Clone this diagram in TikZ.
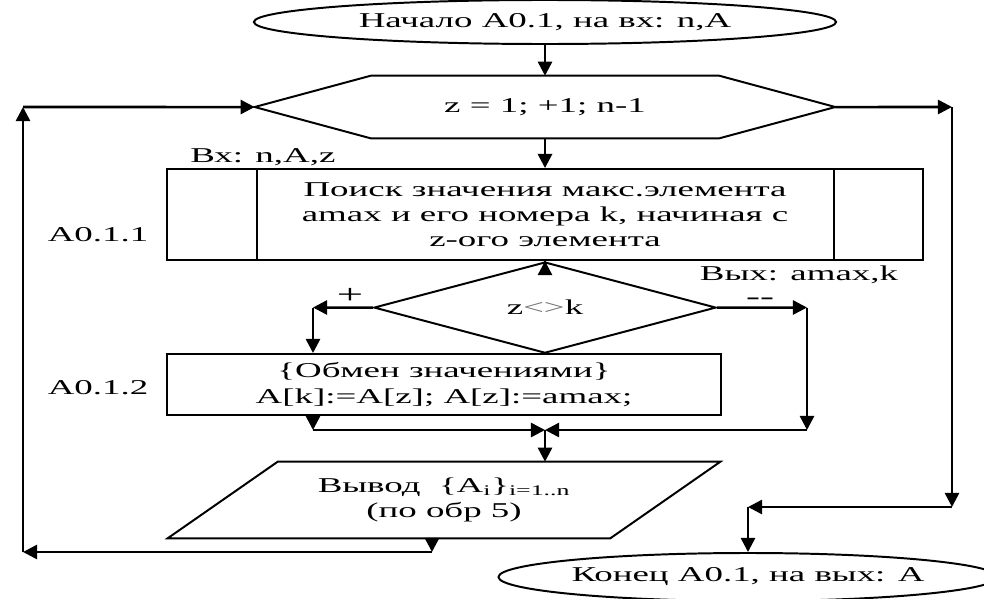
\documentclass[tikz,border=0pt]{standalone}
\usepackage{fontspec}
\setmainfont[FakeStretch=1.75]{Liberation Serif}
\usepackage{tikz}
\usetikzlibrary{shapes,arrows.meta,calc,positioning}

\begin{document}
\begin{tikzpicture}[x=0.025cm, y=-0.025cm, font=\fontsize{15pt}{18pt}\selectfont]
        \tikzstyle{terminal} = [ellipse, draw, line width=1.4pt, inner sep=0pt]
        \tikzstyle{block} = [rectangle, draw, line width=1.4pt, align=center, inner sep=0pt]
        \tikzstyle{frame} = [rectangle, align=center, inner sep=0pt]
        \tikzstyle{decision} = [diamond, draw, line width=1.4pt, inner sep=0pt, minimum width=8.55cm, minimum height=1.525cm]
        \tikzstyle{outline} = [draw, line width=1.4pt, line join=miter]
        \tikzstyle{line} = [draw, line width=1.8pt, -{Triangle[length=10pt, width=10pt]}]
        \tikzstyle{tag} = [inner sep=0pt]

        \useasboundingbox (0,0) rectangle (984,598);

        % main column
        \node [terminal, minimum width=14.55cm, minimum height=1.1cm] (begin) at (545,22) {Начало A0.1, на вх: n,A};
        \node [frame, minimum width=8.7cm, minimum height=1.55cm, below of=begin, node distance=2.125cm] (zloop) {z = 1; +1; n-1};
        \node [block, minimum width=18.9cm, minimum height=2.275cm, below of=zloop, node distance=2.6875cm] (search) {Поиск значения макс.элемента\\amax и его номера k, начиная с\\z-ого элемента};
        \node [decision, below of=search, node distance=2.325cm] (check) {z{\color{black!55}<>}k};
        \node [block, minimum width=13.85cm, minimum height=1.525cm] (swap) at (444,384.5) {\{Обмен значениями\}\\A[k]:=A[z]; A[z]:=amax;};
        \node [frame, minimum width=11.05cm, minimum height=1.9cm] (output) at (444,500) {Вывод\ \ \{A\textsubscript{i}\}\textsubscript{i=1..n}\\(по обр 5)};
        \node [terminal, minimum width=11.625cm, minimum height=1.2cm] (finish) at (748,577) {Конец A0.1, на вых: A};

        % outlines of the loop head, the predefined process and the output
        \path [outline] ($(zloop.west)+(-116,0)$) coordinate (zloop w) -- (zloop.north west) -- (zloop.north east) -- ($(zloop.east)+(116,0)$) coordinate (zloop e) -- (zloop.south east) -- (zloop.south west) -- cycle;
        \path [outline] ($(search.north west)+(91,0)$) -- ($(search.south west)+(91,0)$);
        \path [outline] ($(search.north east)+(-90,0)$) -- ($(search.south east)+(-90,0)$);
        \path [outline] ($(output.north west)+(55,0)$) -- ($(output.north east)+(55,0)$) -- ($(output.south east)+(-55,0)$) -- ($(output.south west)+(-55,0)$) -- cycle;

        % labels
        \node [tag, anchor=west] (in label) at (190,157) {Вх: n,A,z};
        \node [tag] (label one) at (98,235) {A0.1.1};
        \node [tag] (label two) at (98,388) {A0.1.2};
        \node [tag] (out label) at (799,275) {Вых: amax,k};
        \node [tag, font=\fontsize{19pt}{20pt}\selectfont] (plus) at (350,296) {+};
        \node [tag, font=\fontsize{17pt}{18pt}\selectfont] (minus) at (760,301) {-{}-};

        \coordinate (yes a) at (313,307.5);
        \coordinate (yes b) at (313,430);
        \coordinate (no a) at (807,307.5);
        \coordinate (no b) at (807,430);
        \coordinate (merge) at (545,430);
        \coordinate (back a) at (432,552);
        \coordinate (back b) at (23,552);
        \coordinate (back c) at (23,107);
        \coordinate (exit a) at (952,107);
        \coordinate (exit b) at (952,507);
        \coordinate (exit c) at (748,507);

        \path [line] (begin) -- (zloop.north);
        \path [line] (zloop.south) -- (search);
        \path [line] (search) -- (check);
        \path [line] (check.west) -- (yes a);
        \path [line] (yes a) -- (yes a |- swap.north);
        \path [line] (check.east) -- (no a);
        \path [line] (no a) -- (no b);
        \path [line] (yes a |- swap.south) -- (yes b);
        \path [line] (yes b) -- (merge);
        \path [line] (no b) -- (merge);
        \path [line] (merge) -- (merge |- output.north);
        \path [line] ($(output.south)+(-12,0)$) -- (back a);
        \path [line] (back a) -- (back b);
        \path [line] (back b) -- (back c);
        \path [line] (back c) -- (zloop w);
        \path [line] (zloop e) -- (exit a);
        \path [line] (exit a) -- (exit b);
        \path [line] (exit b) -- (exit c);
        \path [line] (exit c) -- (finish);

    \end{tikzpicture}
\end{document}
